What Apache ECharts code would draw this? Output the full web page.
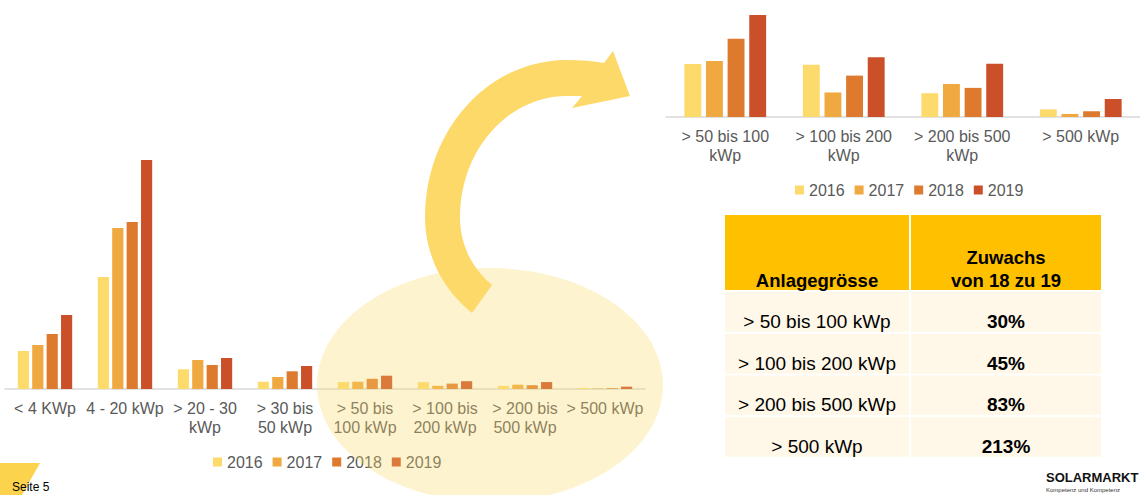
<!DOCTYPE html>
<html>
<head>
<meta charset="utf-8">
<title>Zuwachs nach Anlagegrösse</title>
<script src="https://cdn.jsdelivr.net/npm/echarts@6/dist/echarts.min.js"></script>
<style>
  html, body { margin: 0; padding: 0; background: #fff; }
  #chart { width: 1140px; height: 495px; }
</style>
</head>
<body>
<div id="chart"></div>
<script>
// Achsenbeschriftungen (links alle Klassen, rechts Vergrösserung ab 50 kWp)
var leftLabels = ['< 4 KWp', '4 - 20 kWp', '> 20 - 30\nkWp', '> 30 bis\n50 kWp',
  '> 50 bis\n100 kWp', '> 100 bis\n200 kWp', '> 200 bis\n500 kWp', '> 500 kWp'];
var rightLabels = ['> 50 bis 100\nkWp', '> 100 bis 200\nkWp', '> 200 bis 500\nkWp', '> 500 kWp'];
var years = ['2016', '2017', '2018', '2019'];

// Werte je Jahr (geschätzt aus der Grafik)
var y2016 = [380, 1120, 197, 73, 69, 68, 31, 10];
var y2017 = [440, 1610, 290, 120, 73, 32, 43, 4];
var y2018 = [550, 1670, 240, 177, 102, 54, 38, 7.5];
var y2019 = [740, 2290, 310, 230, 133, 78, 69.5, 23.5];

// Tabelle
var tableSizes = ['> 50 bis 100 kWp', '> 100 bis 200 kWp', '> 200 bis 500 kWp', '> 500 kWp'];
var tableGrowth = ['30%', '45%', '83%', '213%'];

var colors = ['#FDDA6C', '#EFA940', '#DD7A2D', '#CB4F29'];
var yearData = [y2016, y2017, y2018, y2019];
var FONT = '"Liberation Sans", Arial, sans-serif';

var chart = echarts.init(document.getElementById('chart'), null, { renderer: 'svg' });

// Kubische Bezierkurve abtasten (für den Pfeil)
function bez(p0, p1, p2, p3, n) {
  var pts = [];
  for (var i = 1; i <= n; i++) {
    var t = i / n, u = 1 - t;
    pts.push([
      u * u * u * p0[0] + 3 * u * u * t * p1[0] + 3 * u * t * t * p2[0] + t * t * t * p3[0],
      u * u * u * p0[1] + 3 * u * u * t * p1[1] + 3 * u * t * t * p2[1] + t * t * t * p3[1]
    ]);
  }
  return pts;
}

var arrow = [[472, 313]];
arrow = arrow.concat(bez([472, 313], [443, 290], [425, 255], [425, 217], 16));
arrow = arrow.concat(bez([425, 217], [425, 130], [488, 60], [567, 60], 24));
arrow = arrow.concat(bez([567, 60], [582, 60], [594, 61], [604, 63], 4));
arrow.push([613, 51], [630, 96], [572, 108], [582, 96], [567, 96]);
arrow = arrow.concat(bez([567, 96], [508, 96], [460, 150], [460, 217], 24));
arrow = arrow.concat(bez([460, 217], [460, 245], [472, 268], [492, 285], 12));

// Tabelle als Grafikelemente
var table = [];
table.push({ type: 'rect', z: 5, shape: { x: 725, y: 215, width: 184, height: 75 }, style: { fill: '#FFC000' } });
table.push({ type: 'rect', z: 5, shape: { x: 911, y: 215, width: 190, height: 75 }, style: { fill: '#FFC000' } });
table.push({ type: 'text', z: 6, x: 817, y: 280,
  style: { text: 'Anlagegrösse', font: 'bold 18.5px ' + FONT, fill: '#000',
    align: 'center', textAlign: 'center', verticalAlign: 'middle', textVerticalAlign: 'middle' } });
table.push({ type: 'text', z: 6, x: 1006, y: 268.5,
  style: { text: 'Zuwachs\nvon 18 zu 19', font: 'bold 18.5px ' + FONT, fill: '#000', lineHeight: 23,
    align: 'center', textAlign: 'center', verticalAlign: 'middle', textVerticalAlign: 'middle' } });
tableSizes.forEach(function (s, i) {
  var top = 292 + i * 41.7;
  table.push({ type: 'rect', z: 5, shape: { x: 725, y: top, width: 184, height: 39.7 }, style: { fill: '#FFF8E8' } });
  table.push({ type: 'rect', z: 5, shape: { x: 911, y: top, width: 190, height: 39.7 }, style: { fill: '#FFF8E8' } });
  table.push({ type: 'text', z: 6, x: 817, y: top + 29.5,
    style: { text: s, font: '19px ' + FONT, fill: '#000',
      align: 'center', textAlign: 'center', verticalAlign: 'middle', textVerticalAlign: 'middle' } });
  table.push({ type: 'text', z: 6, x: 1006, y: top + 29.5,
    style: { text: tableGrowth[i], font: 'bold 19px ' + FONT, fill: '#000',
      align: 'center', textAlign: 'center', verticalAlign: 'middle', textVerticalAlign: 'middle' } });
});

var series = [];
years.forEach(function (y, i) {
  series.push({
    name: y, type: 'bar', xAxisIndex: 0, yAxisIndex: 0,
    barCategoryGap: '32%', barGap: '29%',
    itemStyle: { color: colors[i] },
    data: yearData[i]
  });
});
years.forEach(function (y, i) {
  series.push({
    name: y, type: 'bar', xAxisIndex: 1, yAxisIndex: 1,
    barCategoryGap: '31%', barGap: '28%',
    itemStyle: { color: colors[i] },
    data: yearData[i].slice(4)
  });
});

var axisLabel = { color: '#595959', fontSize: 16, fontFamily: FONT, lineHeight: 19, margin: 10, interval: 0 };
var legendStyle = {
  icon: 'rect', itemWidth: 9, itemHeight: 9, itemGap: 10,
  textStyle: { color: '#595959', fontSize: 16, fontFamily: FONT },
  data: years, selectedMode: false
};

var option = {
  animation: false,
  backgroundColor: '#fff',
  color: colors,
  grid: [
    { left: 5, top: 139, width: 640, height: 250 },
    { left: 666, top: 2, width: 474, height: 115 }
  ],
  xAxis: [
    { type: 'category', gridIndex: 0, data: leftLabels, axisTick: { show: false },
      axisLine: { lineStyle: { color: '#D9D9D9', width: 1.5 } }, axisLabel: axisLabel },
    { type: 'category', gridIndex: 1, data: rightLabels, axisTick: { show: false },
      axisLine: { lineStyle: { color: '#D9D9D9', width: 1.5 } }, axisLabel: axisLabel }
  ],
  yAxis: [
    { type: 'value', gridIndex: 0, min: 0, max: 2500, show: false, splitLine: { show: false } },
    { type: 'value', gridIndex: 1, min: 0, max: 150, show: false, splitLine: { show: false } }
  ],
  legend: [
    Object.assign({ left: 208, top: 449 }, legendStyle),
    Object.assign({ left: 790, top: 177 }, legendStyle)
  ],
  graphic: { elements: table.concat([
    // halbtransparente Ellipse über dem Bereich ab 50 kWp
    { type: 'ellipse', z: 50, shape: { cx: 490, cy: 385, rx: 173, ry: 117 },
      style: { fill: 'rgba(253,217,106,0.32)' } },
    // gebogener Pfeil
    { type: 'polygon', z: 51, shape: { points: arrow }, style: { fill: '#FDD96A' } },
    // Fusszeile
    { type: 'polygon', z: 5, shape: { points: [[0, 463], [40, 463], [22, 495], [0, 495]] },
      style: { fill: '#FCD34D' } },
    { type: 'text', z: 6, x: 12, y: 481,
      style: { text: 'Seite 5', font: '12px ' + FONT, fill: '#000' } },
    { type: 'text', z: 6, x: 1046, y: 471,
      style: { text: 'SOLARMARKT', font: 'bold 13px ' + FONT, fill: '#111' } },
    { type: 'text', z: 6, x: 1046, y: 487,
      style: { text: 'Kompetenz und Kompetenz', font: '6px ' + FONT, fill: '#333' } }
  ]) },
  series: series
};

chart.setOption(option);
</script>
</body>
</html>
